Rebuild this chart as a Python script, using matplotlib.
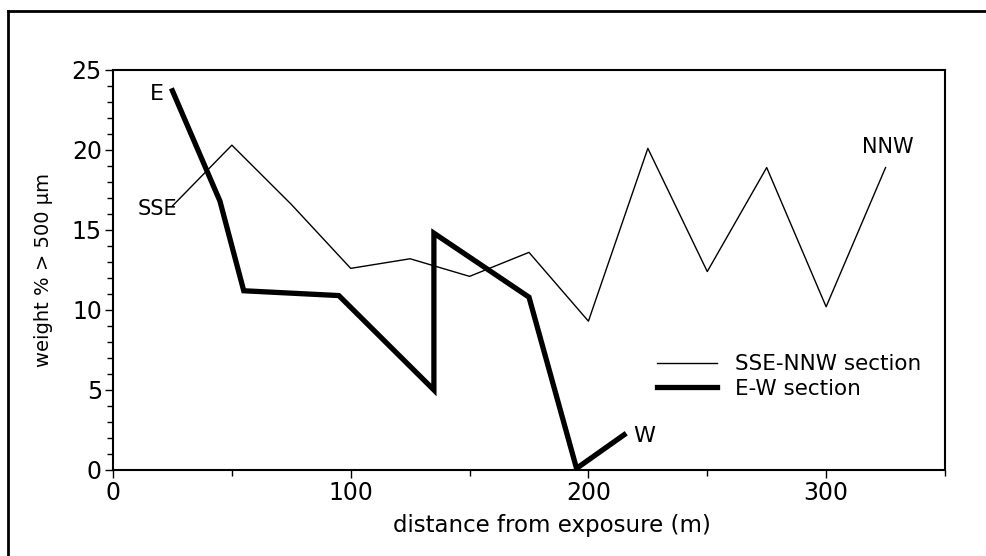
import matplotlib.pyplot as plt
from matplotlib.lines import Line2D
from matplotlib.ticker import MultipleLocator

plt.rcParams['font.family'] = ['DejaVu Sans']

# SSE-NNW section (thin line)
sse_x = [25, 50, 75, 100, 125, 150, 175, 200, 225, 250, 275, 300, 325]
sse_y = [16.5, 20.3, 16.6, 12.6, 13.2, 12.1, 13.6, 9.3, 20.1, 12.4, 18.9, 10.2, 18.9]

# E-W section (thick line)
ew_x = [25, 45, 55, 95, 135, 135, 175, 195, 215]
ew_y = [23.7, 16.8, 11.2, 10.9, 5.0, 14.8, 10.8, 0.1, 2.2]

fig = plt.figure(figsize=(9.86, 5.56), dpi=100)
ax = fig.add_axes([0.1146, 0.1547, 0.8438, 0.7195])

ax.plot(sse_x, sse_y, color='black', lw=1.0, label='SSE-NNW section')
ax.plot(ew_x, ew_y, color='black', lw=3.8, solid_joinstyle='miter', label='E-W section')

ax.set_xlim(0, 350)
ax.set_ylim(0, 25)
ax.xaxis.set_major_locator(MultipleLocator(100))
ax.xaxis.set_minor_locator(MultipleLocator(50))
ax.yaxis.set_major_locator(MultipleLocator(5))
ax.yaxis.set_minor_locator(MultipleLocator(1))
ax.tick_params(which='major', direction='out', length=6, width=1, labelsize=17, pad=2)
ax.tick_params(which='minor', direction='out', length=4, width=1)
for s in ax.spines.values():
    s.set_linewidth(1.5)

ax.set_xlabel('distance from exposure (m)', fontsize=16.5)
ax.xaxis.set_label_coords(0.527, -0.11)
ax.set_ylabel('weight % > 500 µm', fontsize=14)
ax.yaxis.set_label_coords(-0.072, 0.5)

ax.text(21.5, 23.5, 'E', fontsize=16, ha='right', va='center')
ax.text(27, 16.3, 'SSE', fontsize=15, ha='right', va='center')
ax.text(326, 20.2, 'NNW', fontsize=15, ha='center', va='center')
ax.text(219, 2.1, 'W', fontsize=16, ha='left', va='center')

ax.legend(loc='center left', bbox_to_anchor=(0.654, 0.234), frameon=False,
          fontsize=15.5, handlelength=2.8, handletextpad=0.8, labelspacing=0.2,
          borderpad=0, borderaxespad=0)

# outer frame of the figure (left and top only)
fig.add_artist(Line2D([0.0086, 0.0086], [0, 0.98], transform=fig.transFigure,
                      color='black', lw=2))
fig.add_artist(Line2D([0.0086, 1.0], [0.98, 0.98], transform=fig.transFigure,
                      color='black', lw=2))

fig.savefig('out.png', dpi=100)
